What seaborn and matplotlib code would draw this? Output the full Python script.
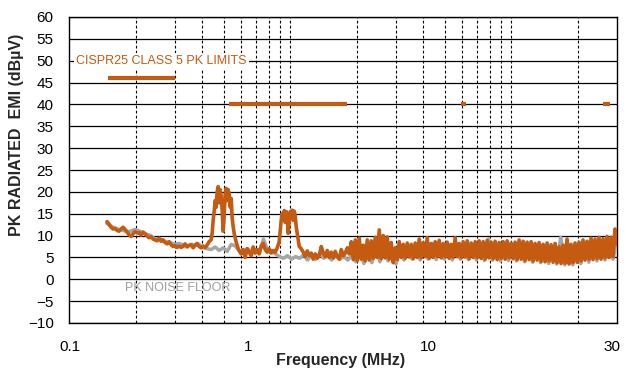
import numpy as np
import pandas as pd
import matplotlib
matplotlib.use("Agg")
import matplotlib.pyplot as plt
import seaborn as sns

sns.set_style("white")
plt.rcParams["font.family"] = ["Liberation Sans", "DejaVu Sans"]

ORANGE = "#C55A11"
GRAY = "#A6A6A6"

# ---------------- data ----------------
# CISPR25 class 5 peak limit bands: start MHz, stop MHz, level dBuV
limit_start = [0.15, 0.53, 5.9, 26.0]
limit_stop = [0.30, 1.8, 6.2, 28.0]
limit_level = [46, 40, 40, 40]

# measured PK emission, dBuV, in consecutive sweep pieces
# (each piece spans seg_f_start..seg_f_end MHz, points evenly spaced on the log axis)
seg_f_start = [0.1486, 0.4437, 0.5878, 0.9010, 1.1214, 1.888]
seg_f_end = [0.4389, 0.5818, 0.8917, 1.0982, 1.849, 30.0]

orange_lf = [13.2, 12.6, 11.9, 11.5, 11.6, 11.2, 11.0, 11.5, 11.9, 11.4,
             10.8, 10.2, 9.8, 10.4, 10.9, 10.6, 10.7, 10.1, 10.8, 10.4,
             9.9, 9.5, 9.7, 9.2, 9.0, 8.8, 9.4, 8.7, 9.0, 8.4,
             8.1, 8.6, 7.9, 7.5, 7.7, 7.3, 7.6, 7.3, 7.5, 8.1,
             7.4, 7.7, 7.9, 7.2, 7.8, 8.2, 7.5, 7.2, 7.6, 7.3,
             7.8, 8.6, 9.0]
orange_peak1 = [10.5, 13.5, 15.5, 18.0, 16.5, 20.0, 21.2, 17.5, 20.5, 19.0,
                15.8, 11.0, 14.5, 19.5, 20.8, 18.0, 20.5, 19.5, 16.5, 18.5,
                14.0, 12.0, 10.5, 9.5, 8.5, 7.8, 7.0]
orange_mid = [6.5, 5.8, 6.8, 5.0, 7.0, 6.2, 5.4, 7.4, 6.0, 6.8,
              5.8, 7.6, 8.2, 6.8, 6.2, 7.0, 6.0, 6.6, 6.2, 7.2, 8.6]
orange_peak2 = [11.0, 13.5, 15.0, 14.0, 15.7, 13.0, 15.5, 14.5, 10.5, 13.0,
                15.5, 14.2, 15.8, 13.5, 15.6, 14.5, 12.0, 10.5, 9.0, 7.5]
orange_low = [7.0, 6.2, 5.2, 6.5, 5.4, 6.0, 4.6, 5.8, 4.8, 5.5,
              7.5, 6.0, 5.2, 6.6, 5.0, 6.2, 4.9, 6.4, 5.2, 4.6,
              6.8, 5.4, 6.0, 7.2, 5.8]
orange_hf_top = [8.6, 9.0, 9.4, 7.8, 9.0, 8.8, 9.6, 11.3, 10.0, 9.7,
                 8.4, 7.2, 8.6, 8.0, 8.3, 8.0, 8.3, 9.2, 8.4, 9.5,
                 8.2, 8.6, 8.9, 8.2, 8.5, 8.0, 9.5, 8.2, 8.6, 8.8,
                 8.3, 8.6, 8.8, 8.6, 8.9, 8.5, 8.7, 8.4, 8.6, 8.8,
                 8.3, 8.5, 9.0, 8.7, 8.5, 8.6, 8.2, 8.4, 8.0, 8.3,
                 7.9, 8.2, 7.4, 7.8, 9.2, 8.0, 8.3, 8.5, 9.0, 8.7,
                 9.4, 9.2, 9.6, 9.3, 9.8, 9.6, 11.5]
orange_hf_bottom = [4.5, 4.3, 4.6, 4.2, 4.4, 4.8, 5.0, 4.7, 4.9, 4.6,
                    3.8, 4.5, 5.0, 4.8, 5.1, 4.7, 5.0, 4.9, 5.2, 4.8,
                    5.0, 5.2, 4.9, 5.1, 4.8, 5.0, 5.2, 4.9, 5.1, 4.7,
                    5.0, 4.9, 4.8, 4.6, 4.9, 4.7, 4.5, 4.8, 4.6, 4.9,
                    4.7, 4.5, 4.6, 4.3, 4.5, 4.2, 4.4, 4.1, 4.0, 4.2,
                    3.9, 3.8, 3.6, 3.7, 3.5, 3.8, 3.9, 4.2, 4.4, 4.6,
                    4.5, 4.8, 4.6, 4.9, 5.0, 5.2, 8.0]

# PK noise floor (sweep 0.148 .. 30 MHz), dBuV
gray_lf = [12.8, 12.2, 11.8, 11.4, 11.2, 10.9, 11.0, 11.4, 11.1, 10.6,
           10.3, 10.0, 9.2, 9.3, 8.9, 8.5, 8.3, 8.0, 8.2, 7.9,
           7.6, 8.0, 7.8, 8.0, 7.2, 7.0, 6.8, 7.4, 6.6, 7.2,
           6.4, 8.0, 7.6, 6.6, 6.2, 7.0, 6.4, 6.8, 6.0, 9.2,
           6.8, 6.4, 5.8, 5.2, 4.8, 5.4, 4.6, 5.2, 4.8, 5.6,
           4.4, 5.6, 4.6, 5.8, 4.8, 5.4, 4.4, 5.6, 4.6, 5.2,
           4.4, 5.4]
gray_hf = [4.0, 7.0, 3.6, 7.5, 3.8, 7.8, 4.0, 8.0, 4.2, 7.0,
           3.5, 7.6, 4.4, 7.8, 4.6, 8.0, 4.4, 7.8, 4.6, 8.2,
           4.5, 7.8, 4.6, 8.0, 4.4, 7.6, 4.6, 8.0, 4.5, 7.8,
           4.4, 8.0, 4.3, 9.2, 4.4, 7.8, 4.2, 7.6, 4.3, 7.9,
           4.2, 7.6, 4.0, 7.8, 3.9, 7.5, 3.8, 7.7, 3.6, 7.4,
           3.5, 9.6, 3.3, 7.5, 3.3, 7.8, 3.6, 8.0, 3.9, 8.2,
           4.2, 8.5, 4.4, 8.6, 4.6, 8.8]

y_ticks = list(range(-10, 61, 5))
x_tick_labels = ["0.1", "1", "10", "30"]
x_tick_label_pos = [0.101, 0.646, 4.21, 28.6]   # where the labels sit in the reference
x_grid_lines = [0.2, 0.3, 0.4, 0.5, 0.6, 0.7, 0.8, 0.9, 1,
                2, 3, 4, 5, 6, 7, 8, 9, 10, 20]

# ---------------- assemble tables ----------------
hf = []
for t, b in zip(orange_hf_top, orange_hf_bottom):
    hf += [t, b]
pieces = [orange_lf, orange_peak1, orange_mid, orange_peak2, orange_low, hf]
f_orange, orange_db = [], []
for fs, fe, vals in zip(seg_f_start, seg_f_end, pieces):
    f_orange += list(np.geomspace(fs, fe, len(vals)))
    orange_db += vals
gray_db = gray_lf + gray_hf
f_gray = np.geomspace(0.148, 30, len(gray_db))

df_meas = pd.DataFrame({"f": f_orange, "db": orange_db})
df_floor = pd.DataFrame({"f": f_gray, "db": gray_db})
lim_rows = []
for i, (a, b, lv) in enumerate(zip(limit_start, limit_stop, limit_level)):
    lim_rows += [{"band": i, "f": a, "db": lv}, {"band": i, "f": b, "db": lv}]
df_lim = pd.DataFrame(lim_rows)

# ---------------- figure ----------------
fig = plt.figure(figsize=(6.26, 3.68), dpi=100)
ax = fig.add_axes([69 / 626, 1 - 323 / 368, 548 / 626, 306 / 368])
ax.set_xscale("log")

sns.lineplot(data=df_floor, x="f", y="db", ax=ax, color=GRAY, lw=2.5,
             estimator=None, zorder=3)
sns.lineplot(data=df_meas, x="f", y="db", ax=ax, color=ORANGE, lw=2.6,
             estimator=None, zorder=4)
sns.lineplot(data=df_lim, x="f", y="db", units="band", ax=ax, color=ORANGE,
             lw=3.0, estimator=None, zorder=4, solid_capstyle="butt")

ax.set_xlim(0.1, 30)
ax.set_ylim(-10, 60)
ax.set_yticks(y_ticks)
ax.set_xticks(x_tick_label_pos)
ax.set_xticklabels(x_tick_labels)
ax.set_xticks(x_grid_lines, minor=True)
ax.xaxis.set_minor_formatter(matplotlib.ticker.NullFormatter())
ax.tick_params(axis="both", which="both", length=0, labelsize=11, colors="black")
ax.tick_params(axis="y", pad=11)
ax.tick_params(axis="x", pad=12)

ax.grid(False)
ax.grid(True, which="major", axis="y", color="black", lw=0.9, ls="-", zorder=1)
ax.grid(True, which="minor", axis="x", color="black", lw=0.8, ls=(0, (2.5, 2)), zorder=1)
ax.set_axisbelow(True)
for s in ax.spines.values():
    s.set_color("black")
    s.set_linewidth(1.0)

ax.set_xlabel("Frequency (MHz)", fontsize=11.5, fontweight="bold")
ax.set_ylabel("PK RADIATED  EMI (dBµV)", fontsize=11.5, fontweight="bold")
ax.xaxis.set_label_coords(0.495, -0.098)
ax.yaxis.set_label_coords(-0.082, 0.614)

ax.text(0.1075, 50, "CISPR25 CLASS 5 PK LIMITS", color=ORANGE, fontsize=9,
        ha="left", va="center", zorder=5,
        bbox=dict(facecolor="white", edgecolor="none", pad=1.5))
ax.text(0.179, -2, "PK NOISE FLOOR", color="#A0A0A0", fontsize=9,
        ha="left", va="center", zorder=5)

fig.savefig("out.png", dpi=100)
